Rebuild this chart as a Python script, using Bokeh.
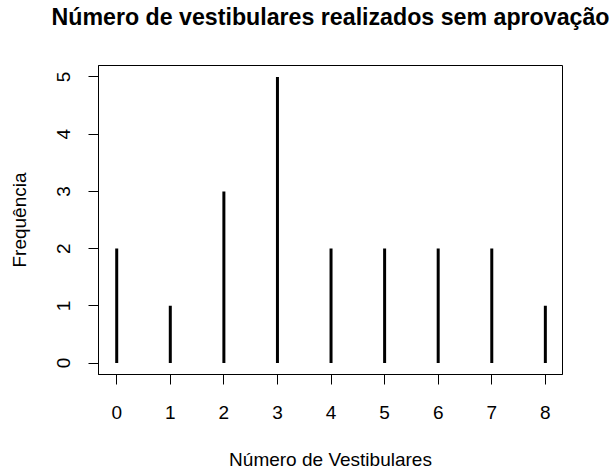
from bokeh.plotting import figure
from bokeh.models import FixedTicker, Range1d, Title
from bokeh.embed import file_html
from bokeh.resources import INLINE

# Data
vestibulares = [0, 1, 2, 3, 4, 5, 6, 7, 8]
frequencia = [2, 1, 3, 5, 2, 2, 2, 2, 1]
x_ticks = [0, 1, 2, 3, 4, 5, 6, 7, 8]
y_ticks = [0, 1, 2, 3, 4, 5]
titulo = "Número de vestibulares realizados sem aprovação"

FONT = "Liberation Sans"

p = figure(width=611, height=472, output_backend="svg", toolbar_location=None,
           x_range=Range1d(-0.34, 8.32), y_range=Range1d(-0.2, 5.2),
           title=titulo,
           min_border_left=98, min_border_right=49, min_border_top=65, min_border_bottom=91)

p.segment(x0=vestibulares, y0=[0] * len(vestibulares), x1=vestibulares, y1=frequencia,
          line_color="black", line_width=3)

xax = p.below[0]
yax = p.left[0]

for ax in (xax, yax):
    ax.axis_line_color = "black"
    ax.major_tick_line_color = "black"
    ax.major_tick_out = 10
    ax.major_tick_in = 0
    ax.minor_tick_line_color = None
    ax.major_label_text_font = FONT
    ax.major_label_text_font_size = "19px"
    ax.major_label_text_color = "black"
    ax.axis_label_text_font = FONT
    ax.axis_label_text_font_size = "19px"
    ax.axis_label_text_font_style = "normal"
    ax.axis_label_text_color = "black"

xax.ticker = FixedTicker(ticks=x_ticks)
yax.ticker = FixedTicker(ticks=y_ticks)
xax.axis_label = "Número de Vestibulares"
yax.axis_label = "Frequência"
yax.major_label_orientation = "vertical"
xax.major_label_standoff = 21
yax.major_label_standoff = 18
xax.axis_label_standoff = 27
yax.axis_label_standoff = 25

# blank spacer between the plot box and the main title
p.add_layout(Title(text=" ", text_font_size="1px", standoff=33), "above")

p.title.align = "center"
p.title.vertical_align = "bottom"
p.title.standoff = 0
p.title.text_font = FONT
p.title.text_font_size = "23.2px"
p.title.text_font_style = "bold"
p.title.text_color = "black"

p.xgrid.visible = False
p.ygrid.visible = False
p.outline_line_color = "black"
p.outline_line_width = 1
p.background_fill_color = "white"
p.border_fill_color = "white"

open("out.html", "w").write(file_html(p, INLINE))
